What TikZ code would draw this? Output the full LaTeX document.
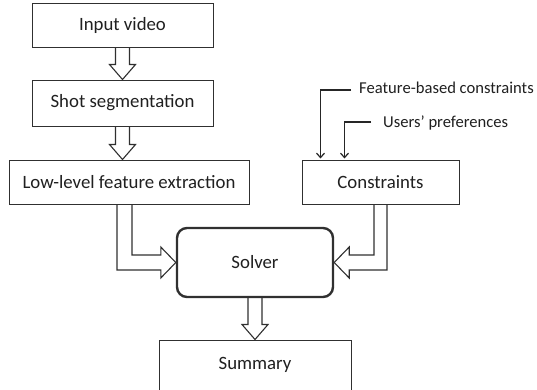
\documentclass[tikz,border=0pt]{standalone}
\usepackage{fontspec}
\setmainfont{Carlito}
\usetikzlibrary{calc,arrows.meta}
\definecolor{ln}{HTML}{303030}
\definecolor{tx}{HTML}{202020}
\tikzset{
  box/.style={draw=ln,line width=1pt,inner sep=0pt,text=tx,font=\fontsize{18.8}{20}\selectfont},
  solverbox/.style={box,line width=2.4pt,rounded corners=10pt},
  harrow/.style={draw=ln,line width=1.1pt,line join=miter},
  tarrow/.style={draw=black!85,line width=1.3pt,-{Straight Barb[length=4.5pt,width=8pt,line width=1.2pt]}},
  lbl/.style={inner sep=0pt,text=tx,font=\fontsize{16.6}{18}\selectfont}
}
\newcommand{\hdown}[2]{%
  \coordinate (tip) at (#1.south |- #2.north);
  \draw[harrow] ($(#1.south)+(-7,0)$) -- ($(tip)+(-7,-15)$) -- ($(tip)+(-13,-15)$) -- (tip) -- ($(tip)+(13,-15)$) -- ($(tip)+(7,-15)$) -- ($(#1.south)+(7,0)$);}
\begin{document}
\begin{tikzpicture}[x=1pt,y=-1pt]
\clip (0,0) rectangle (537,389);
\fill[white] (0,0) rectangle (537,389);
\node[box,minimum width=181pt,minimum height=44pt] (in) at (122.5,25) {Input video};
\node[box,minimum width=181pt,minimum height=46pt] (shot) at (122.5,103) {Shot segmentation};
\node[box,minimum width=240pt,minimum height=44pt] (low) at (129,182) {Low-level feature extraction};
\node[box,minimum width=157pt,minimum height=44pt] (cons) at (380.5,182) {Constraints};
\node[solverbox,minimum width=156pt,minimum height=69pt] (solver) at (255,262.5) {Solver};
\node[box,minimum width=192pt,minimum height=50pt] (sum) at (255,365) {Summary};
\node[lbl,anchor=base west] (feat) at (359,93.5) {Feature-based constraints};
\node[lbl,anchor=base west] (users) at (383,127.5) {Users’ preferences};
\coordinate (featstart) at ($(feat.base west)+(-8,-3.5)$);
\coordinate (usersstart) at ($(users.base west)+(-12,-5.5)$);
% hollow straight arrows
\hdown{in}{shot}
\hdown{shot}{low}
\hdown{solver}{sum}
% hollow bent arrow low -> solver
\draw[harrow] ($(low.south)+(-12,0)$) |- ($(solver.west)+(-15,7.5)$) -- ($(solver.west)+(-15,15.5)$) -- (solver.west) -- ($(solver.west)+(-15,-15.5)$) -- ($(solver.west)+(-15,-7.5)$) -| ($(low.south)+(3,0)$);
% hollow bent arrow cons -> solver
\draw[harrow] ($(cons.south)+(6.5,0)$) |- ($(solver.east)+(15,7.5)$) -- ($(solver.east)+(15,15.5)$) -- (solver.east) -- ($(solver.east)+(15,-15.5)$) -- ($(solver.east)+(15,-7.5)$) -| ($(cons.south)+(-6.5,0)$);
% thin arrows
\draw[tarrow] (featstart) -| ($(cons.north west)+(19,-1)$);
\draw[tarrow] (usersstart) -| ($(cons.north west)+(43,-1)$);
\end{tikzpicture}
\end{document}
